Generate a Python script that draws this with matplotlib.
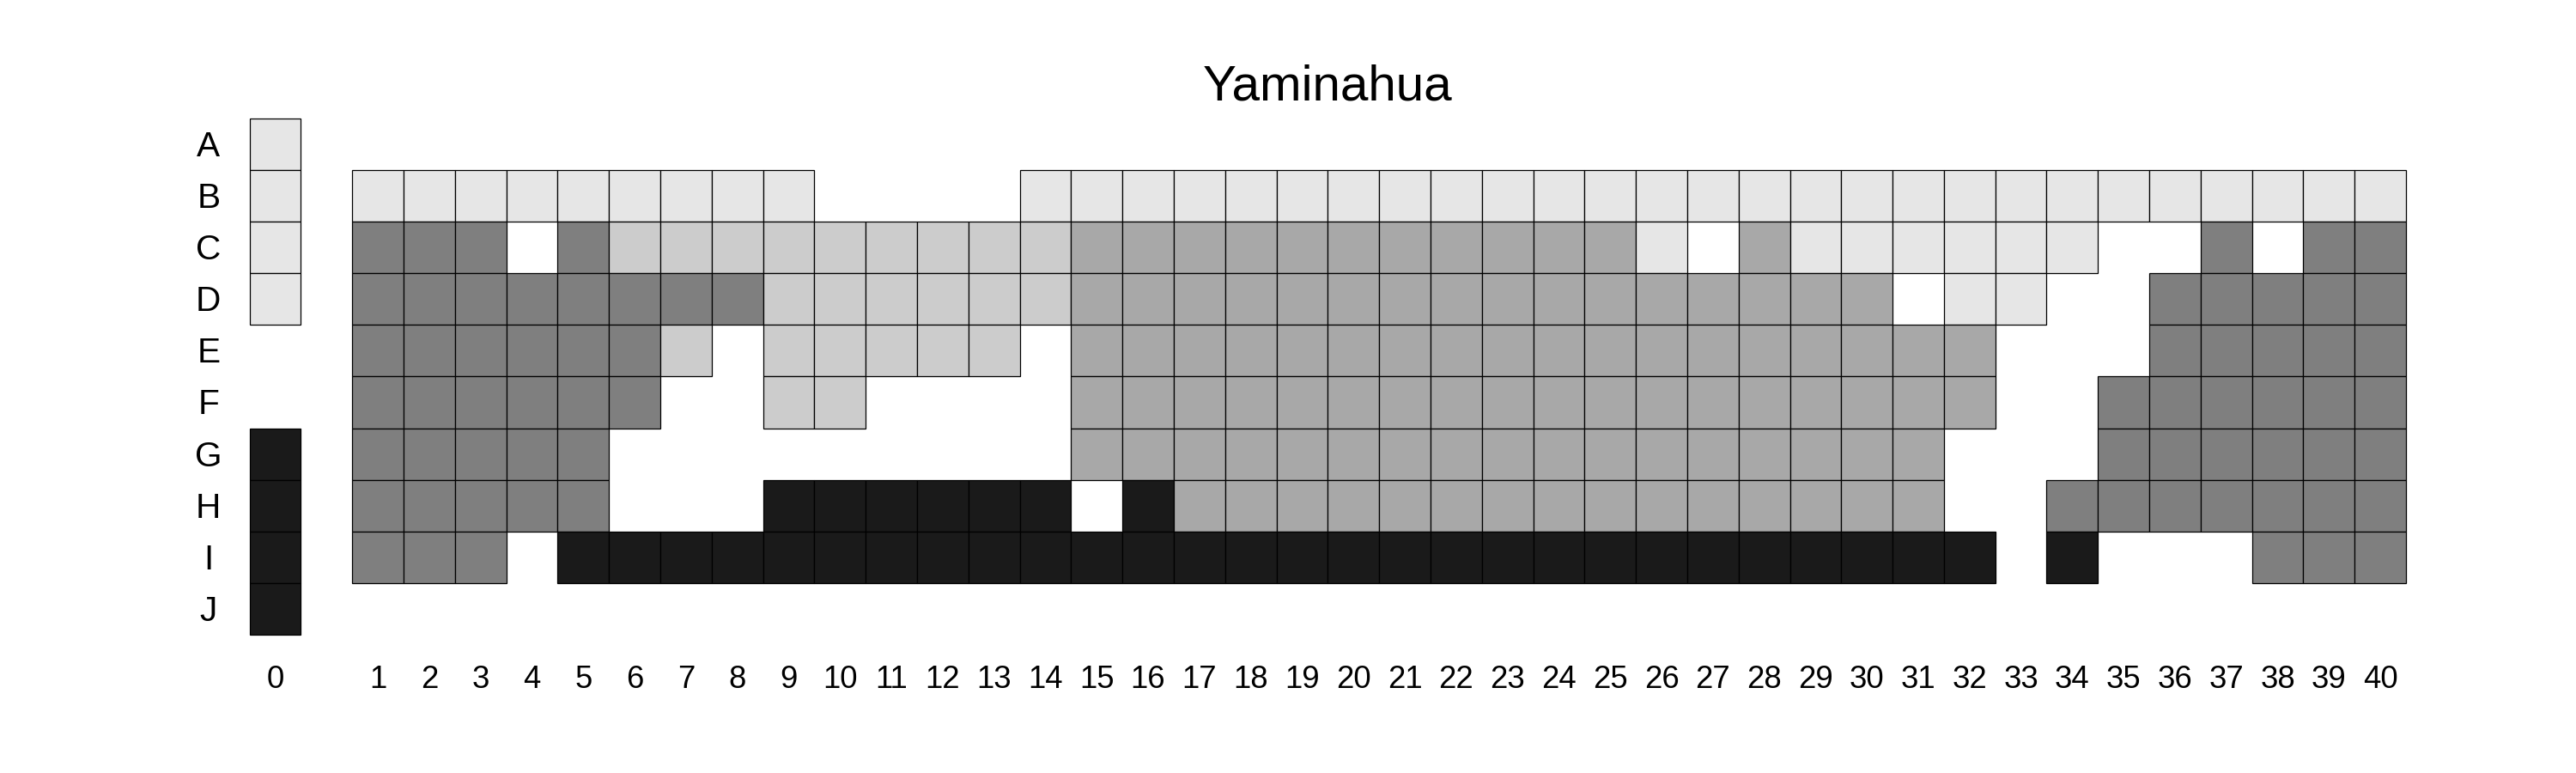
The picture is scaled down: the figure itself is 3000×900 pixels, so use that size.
import matplotlib

matplotlib.use("Agg")
import matplotlib.pyplot as plt

plt.rcParams["font.family"] = ["Liberation Sans", "DejaVu Sans"]

title = "Yaminahua"
row_labels = list("ABCDEFGHIJ")
col_labels = [str(n) for n in range(0, 41)]

# shade codes: 0 empty, 1 lightest ... 5 black
shades = {1: "#E6E6E6", 2: "#CCCCCC", 3: "#A8A8A8", 4: "#7F7F7F", 5: "#1A1A1A"}

# column 0, rows A..J
col0 = "1111005555"

# columns 1..40, rows B..I
grid_rows = {
    "B": "111111111" + "0000" + "1" * 27,
    "C": "444" + "0" + "4" + "2" * 9 + "3" * 11 + "1" + "0" + "3" + "1" * 6 + "00" + "4" + "0" + "44",
    "D": "4" * 8 + "2" * 6 + "3" * 16 + "0" + "11" + "00" + "4" * 5,
    "E": "4" * 6 + "2" + "0" + "2" * 5 + "0" + "3" * 18 + "000" + "4" * 5,
    "F": "4" * 6 + "00" + "22" + "0000" + "3" * 18 + "00" + "4" * 6,
    "G": "4" * 5 + "0" * 9 + "3" * 17 + "000" + "4" * 6,
    "H": "4" * 5 + "000" + "5" * 6 + "0" + "5" + "3" * 15 + "00" + "4" * 7,
    "I": "444" + "0" + "5" * 28 + "0" + "5" + "000" + "444",
}

# column 0 sits two cells left of column 1
col0_pos = -1

fig = plt.figure(figsize=(20, 6), dpi=150)
ax = fig.add_axes([0, 0, 1, 1])


def draw_cell(x, r, code):
    if code == 0:
        return
    ax.bar(x, 1, width=1, bottom=r - 0.5, color=shades[code],
           edgecolor="black", linewidth=0.6)


for r, code in enumerate(col0):
    draw_cell(col0_pos, r, int(code))

for label, row in grid_rows.items():
    r = row_labels.index(label)
    for c, code in enumerate(row, start=1):
        draw_cell(c, r, int(code))

for r, label in enumerate(row_labels):
    ax.text(-2.3, r + 0.05, label, ha="center", va="center", fontsize=19.5)

for c, label in enumerate(col_labels):
    x = col0_pos if c == 0 else c
    ax.text(x, 10.37, label, ha="center", va="center", fontsize=17.5)

ax.text(19.5, -1.1, title, ha="center", va="center", fontsize=28)

ax.set_xlim(-6.36, 43.81)
ax.set_ylim(12.18, -2.795)
ax.axis("off")

fig.savefig("out.png", dpi=150)
